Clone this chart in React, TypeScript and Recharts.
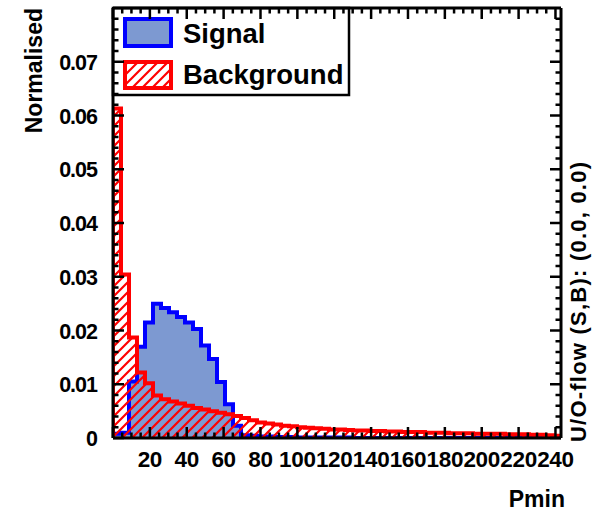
import React from 'react';
import { ComposedChart, Area, XAxis, YAxis } from 'recharts';

// Histogram binning of the Pmin variable
const X_MAX = 243;
const N_BINS = 56;
const BIN_WIDTH = X_MAX / N_BINS;

// Normalised bin contents, signal
const signalValues = [
  0.0008, 0.001, 0.0105, 0.017, 0.0215, 0.025, 0.0242, 0.0234, 0.0225, 0.0215,
  0.0203, 0.0172, 0.0147, 0.0104, 0.0063, 0.0023, 0.0005, 0.0004, 0.0003, 0.0003,
  0.0002, 0.0002, 0.0002, 0.0001, 0.0001, 0.0001, 0.0001, 0.0001, 0.0001, 0.0001,
  0, 0, 0, 0, 0, 0, 0, 0, 0, 0,
  0, 0, 0, 0, 0, 0, 0, 0, 0, 0,
  0, 0, 0, 0, 0, 0,
];

// Normalised bin contents, background
const backgroundValues = [
  0.0613, 0.0304, 0.0187, 0.0122, 0.0102, 0.0079, 0.0072, 0.0068, 0.0064, 0.006,
  0.0056, 0.0053, 0.005, 0.0047, 0.0044, 0.0041, 0.0037, 0.0033, 0.0029, 0.0027,
  0.0025, 0.0023, 0.0022, 0.002, 0.0019, 0.0018, 0.0017, 0.0016, 0.0016, 0.0015,
  0.0014, 0.0014, 0.0013, 0.0013, 0.0012, 0.0012, 0.0011, 0.0011, 0.0011, 0.001,
  0.001, 0.001, 0.0009, 0.0009, 0.0009, 0.0008, 0.0008, 0.0008, 0.0008, 0.0007,
  0.0007, 0.0007, 0.0006, 0.0006, 0.0005, 0.0004,
];

const xTicks = Array.from({ length: 49 }, (_, i) => i * 5);
const xLabelValues = [20, 40, 60, 80, 100, 120, 140, 160, 180, 200, 220, 240];
const yTicks = Array.from({ length: 40 }, (_, i) => Number((i * 0.002).toFixed(3)));
const yLabelValues = ['0', '0.01', '0.02', '0.03', '0.04', '0.05', '0.06', '0.07'];

const FONT = "'Liberation Sans', Arial, Helvetica, sans-serif";
const SIGNAL_FILL = '#7d99d1';
const SIGNAL_LINE = '#0000ff';
const BKG_LINE = '#ff0000';

// Step outline: each bin contributes its left and right edge at its height
const histData: { x: number; s: number; b: number }[] = [{ x: 0, s: 0, b: 0 }];
signalValues.forEach((s, k) => {
  const b = backgroundValues[k];
  histData.push({ x: k * BIN_WIDTH, s, b });
  histData.push({ x: (k + 1) * BIN_WIDTH, s, b });
});
histData.push({ x: N_BINS * BIN_WIDTH, s: 0, b: 0 });

const MAJOR = 11;
const MINOR = 5.5;
const TICK_W = 2.5;

const isMajorX = (v: number) => v % 20 === 0;
const isMajorY = (v: number) => Math.round(v / 0.002) % 5 === 0;

const BottomTick = (props: any) => {
  const { x, y, payload } = props;
  const v = payload.value as number;
  const major = isMajorX(v);
  const showLabel = major && xLabelValues.includes(v);
  return (
    <g>
      <line x1={x} x2={x} y1={y} y2={y - (major ? MAJOR : MINOR)} stroke="#000" strokeWidth={TICK_W} />
      {showLabel && (
        <text x={x} y={y + 29} textAnchor="middle" fontFamily={FONT} fontWeight="bold" fontSize={22.5} fill="#000" letterSpacing={-0.3}>
          {v}
        </text>
      )}
    </g>
  );
};

const TopTick = (props: any) => {
  const { x, y, payload } = props;
  const major = isMajorX(payload.value);
  return <line x1={x} x2={x} y1={y} y2={y + (major ? MAJOR : MINOR)} stroke="#000" strokeWidth={TICK_W} />;
};

const LeftTick = (props: any) => {
  const { x, y, payload } = props;
  const v = payload.value as number;
  const major = isMajorY(v);
  const idx = Math.round(v / 0.01);
  return (
    <g>
      <line x1={x} x2={x + (major ? MAJOR : MINOR)} y1={y} y2={y} stroke="#000" strokeWidth={TICK_W} />
      {major && yLabelValues[idx] !== undefined && (
        <text x={x - 16} y={y + 8} textAnchor="end" fontFamily={FONT} fontWeight="bold" fontSize={21.5} fill="#000" letterSpacing={-1}>
          {yLabelValues[idx]}
        </text>
      )}
    </g>
  );
};

const RightTick = (props: any) => {
  const { x, y, payload } = props;
  const major = isMajorY(payload.value);
  return <line x1={x} x2={x - (major ? MAJOR : MINOR)} y1={y} y2={y} stroke="#000" strokeWidth={TICK_W} />;
};

const axisLine = { stroke: '#000', strokeWidth: 3 };

export default function App() {
  return (
    <div style={{ position: 'absolute', left: 0, top: 0, width: 592, height: 515, background: '#fff' }}>
      <svg width={0} height={0} style={{ position: 'absolute' }}>
        <defs>
          <pattern id="bkgHatch" patternUnits="userSpaceOnUse" width={10} height={10}>
            <path d="M0,10 L10,0 M-2.5,2.5 L2.5,-2.5 M7.5,12.5 L12.5,7.5" stroke={BKG_LINE} strokeWidth={2.2} />
          </pattern>
        </defs>
      </svg>
      <ComposedChart
        width={592}
        height={515}
        data={histData}
        margin={{ top: 6, right: 10, bottom: 17, left: 14 }}
      >
        <XAxis
          xAxisId="b"
          type="number"
          dataKey="x"
          domain={[0, X_MAX]}
          allowDataOverflow
          ticks={xTicks}
          interval={0}
          height={60}
          tickSize={0}
          tickMargin={0}
          tickLine={false}
          axisLine={axisLine}
          tick={BottomTick}
        />
        <XAxis
          xAxisId="t"
          orientation="top"
          type="number"
          dataKey="x"
          domain={[0, X_MAX]}
          allowDataOverflow
          ticks={xTicks}
          interval={0}
          height={2}
          tickSize={0}
          tickMargin={0}
          tickLine={false}
          axisLine={axisLine}
          tick={TopTick}
        />
        <YAxis
          yAxisId="l"
          type="number"
          domain={[0, 0.08]}
          allowDataOverflow
          ticks={yTicks}
          interval={0}
          width={99}
          tickSize={0}
          tickMargin={0}
          tickLine={false}
          axisLine={axisLine}
          tick={LeftTick}
        />
        <YAxis
          yAxisId="r"
          orientation="right"
          type="number"
          domain={[0, 0.08]}
          allowDataOverflow
          ticks={yTicks}
          interval={0}
          width={21}
          tickSize={0}
          tickMargin={0}
          tickLine={false}
          axisLine={axisLine}
          tick={RightTick}
        />
        <Area
          xAxisId="b"
          yAxisId="l"
          type="linear"
          dataKey="s"
          name="Signal"
          stroke={SIGNAL_LINE}
          strokeWidth={4}
          fill={SIGNAL_FILL}
          fillOpacity={1}
          dot={false}
          activeDot={false}
          isAnimationActive={false}
        />
        <Area
          xAxisId="b"
          yAxisId="l"
          type="linear"
          dataKey="b"
          name="Background"
          stroke={BKG_LINE}
          strokeWidth={4}
          fill="url(#bkgHatch)"
          fillOpacity={1}
          dot={false}
          activeDot={false}
          isAnimationActive={false}
        />

        {/* legend box */}
        <g>
          <rect x={113} y={8} width={236} height={87} fill="none" stroke="#000" strokeWidth={2.5} />
          <rect x={125} y={19} width={46} height={27} fill={SIGNAL_FILL} stroke={SIGNAL_LINE} strokeWidth={4} />
          <text x={183} y={43} fontFamily={FONT} fontWeight="bold" fontSize={27.5} fill="#000">Signal</text>
          <rect x={125} y={62} width={46} height={26} fill="url(#bkgHatch)" stroke={BKG_LINE} strokeWidth={4} />
          <text x={183} y={84} fontFamily={FONT} fontWeight="bold" fontSize={27.5} fill="#000">Background</text>
        </g>

        {/* axis titles and overflow note */}
        <text transform="translate(42,8) rotate(-90)" textAnchor="end" fontFamily={FONT} fontWeight="bold" fontSize={23} fill="#000">
          Normalised
        </text>
        <text x={565} y={507} textAnchor="end" fontFamily={FONT} fontWeight="bold" fontSize={23} fill="#000">
          Pmin
        </text>
        <text
          transform="translate(586,442) rotate(-90)"
          textAnchor="start"
          fontFamily={FONT}
          fontWeight="bold"
          fontSize={22}
          fill="#000"
          textLength={280}
          lengthAdjust="spacing"
        >
          U/O-flow (S,B): (0.0, 0.0)
        </text>
      </ComposedChart>
    </div>
  );
}
